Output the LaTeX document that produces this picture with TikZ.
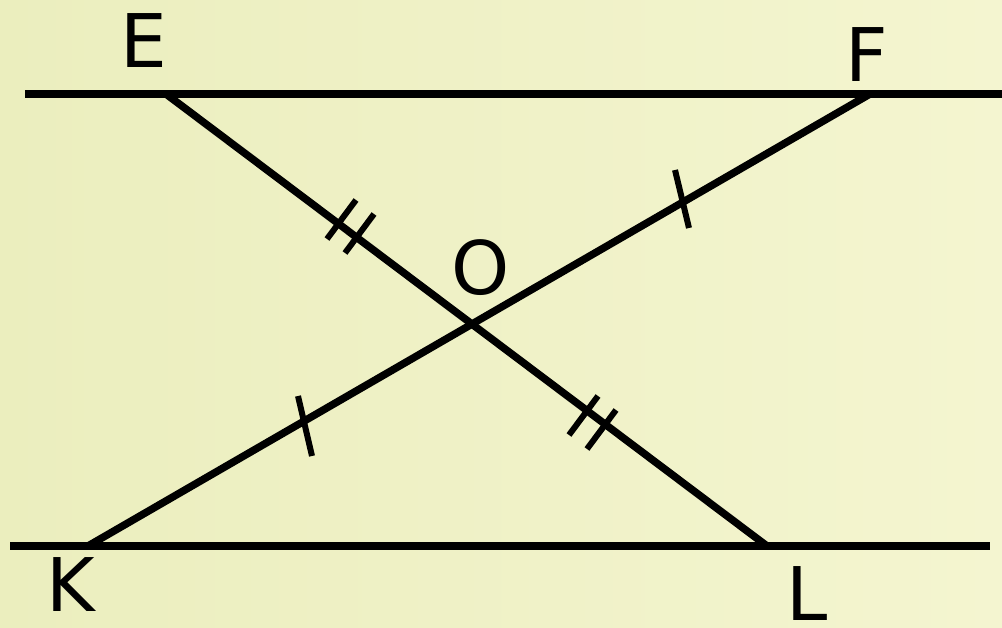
\documentclass[tikz,border=0pt]{standalone}
\usepackage{fontspec}
\setmainfont{DejaVu Sans}
\begin{document}
\begin{tikzpicture}[x=1pt,y=-1pt,
  seg/.style={line width=7.5pt},
  tickmark/.style={line width=6pt},
  lbl/.style={inner sep=0pt,font=\fontsize{74}{80}\selectfont}]
\useasboundingbox (0,0) rectangle (1002,628);
\fill[left color={rgb,255:red,235;green,238;blue,190},right color={rgb,255:red,244;green,245;blue,208}] (0,0) rectangle (1002,628);
% points
\coordinate (E) at (166,94);
\coordinate (F) at (870,94);
\coordinate (K) at (88,546);
\coordinate (L) at (767,546);
\coordinate (T1) at (25,94);
\coordinate (T2) at (1002,94);
\coordinate (B1) at (10,546);
\coordinate (B2) at (990,546);
% parallel lines
\draw[seg] (T1) -- (T2);
\draw[seg] (B1) -- (B2);
% transversals
\draw[seg] (E) -- (L);
\draw[seg] (K) -- (F);
% single ticks
\coordinate (s1a) at (675,170); \coordinate (s1b) at (689,228);
\coordinate (s2a) at (298,396); \coordinate (s2b) at (312,456);
\draw[tickmark] (s1a) -- (s1b);
\draw[tickmark] (s2a) -- (s2b);
% double ticks (perpendicular to EL)
\coordinate (d1a) at (356,200); \coordinate (d1b) at (327,239);
\coordinate (d2a) at (374,214); \coordinate (d2b) at (345,253);
\coordinate (d3a) at (598,396); \coordinate (d3b) at (569,435);
\coordinate (d4a) at (616,410); \coordinate (d4b) at (587,449);
\draw[tickmark] (d1a) -- (d1b);
\draw[tickmark] (d2a) -- (d2b);
\draw[tickmark] (d3a) -- (d3b);
\draw[tickmark] (d4a) -- (d4b);
% labels
\node[lbl] (lE) at (143.5,40.5) {E};
\node[lbl] (lF) at (867,55) {F};
\node[lbl] (lO) at (481,268) {O};
\node[lbl] (lK) at (71,584.5) {K};
\node[lbl] (lL) at (807,594) {L};
\end{tikzpicture}
\end{document}
